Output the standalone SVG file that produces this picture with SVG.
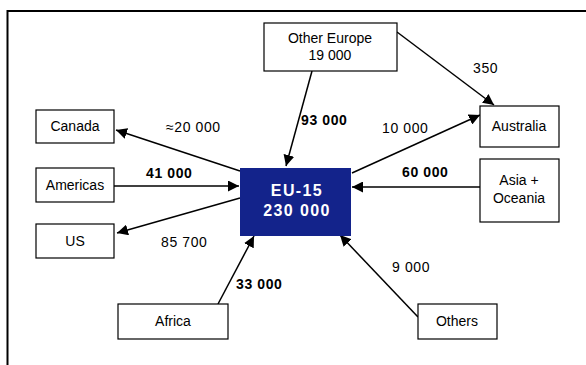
<svg xmlns="http://www.w3.org/2000/svg" width="586" height="365" viewBox="0 0 586 365">
<style>
.box{fill:#fff;stroke:#000;stroke-width:1.2}
.t{font-family:"Liberation Sans","DejaVu Sans",sans-serif;font-size:14px;fill:#000;text-anchor:middle}
.lb{font-family:"Liberation Sans","DejaVu Sans",sans-serif;font-size:14px;letter-spacing:0.6px;fill:#000}
.b{font-weight:bold}
.eu{font-family:"Liberation Sans","DejaVu Sans",sans-serif;font-size:16px;font-weight:bold;letter-spacing:1.4px;fill:#fff;text-anchor:middle}
.c{stroke:#000;stroke-width:1.5;fill:none}
</style>
<defs>
<marker id="ah2" viewBox="0 0 10 10" refX="10" refY="5" markerWidth="11" markerHeight="11" markerUnits="userSpaceOnUse" orient="auto"><path d="M0,0 L10,5 L0,10 z" fill="#000"/></marker>
</defs>
<g id="frame"><path d="M7.5,365 V11 H586" fill="none" stroke="#000" stroke-width="2"/></g>
<g id="connectors">
<line class="c" x1="240" y1="171" x2="116" y2="130" marker-end="url(#ah2)"/>
<line class="c" x1="114" y1="186" x2="239" y2="186" marker-end="url(#ah2)"/>
<line class="c" x1="240" y1="198" x2="117" y2="233" marker-end="url(#ah2)"/>
<line class="c" x1="218" y1="304" x2="254" y2="236" marker-end="url(#ah2)"/>
<line class="c" x1="312" y1="71" x2="286" y2="166" marker-end="url(#ah2)"/>
<line class="c" x1="397" y1="32" x2="494" y2="105" marker-end="url(#ah2)"/>
<line class="c" x1="352" y1="173" x2="480" y2="115" marker-end="url(#ah2)"/>
<line class="c" x1="480" y1="187" x2="352" y2="187" marker-end="url(#ah2)"/>
<line class="c" x1="418" y1="317" x2="340" y2="235" marker-end="url(#ah2)"/>
</g>
<g id="labels">
<text class="lb" x="166" y="132">≈20 000</text>
<text class="lb b" x="146" y="178">41 000</text>
<text class="lb" x="161" y="247">85 700</text>
<text class="lb b" x="236" y="289">33 000</text>
<text class="lb b" x="301" y="125">93 000</text>
<text class="lb" x="382" y="133">10 000</text>
<text class="lb" x="473" y="73">350</text>
<text class="lb b" x="402" y="177">60 000</text>
<text class="lb" x="392" y="272">9 000</text>
</g>
<g id="eu15"><rect x="240" y="168" width="111" height="68" fill="#13238B"/><text class="eu" x="297" y="196">EU-15</text><text class="eu" x="297" y="216">230 000</text></g>
<g id="canada"><rect class="box" x="36" y="110" width="78" height="33"/><text class="t" x="75" y="131">Canada</text></g>
<g id="americas"><rect class="box" x="36" y="168" width="78" height="34"/><text class="t" x="75" y="190">Americas</text></g>
<g id="us"><rect class="box" x="36" y="224" width="78" height="34"/><text class="t" x="75" y="246">US</text></g>
<g id="africa"><rect class="box" x="118" y="304" width="110" height="35"/><text class="t" x="173" y="326">Africa</text></g>
<g id="others"><rect class="box" x="418" y="304" width="79" height="35"/><text class="t" x="457" y="326">Others</text></g>
<g id="other-europe"><rect class="box" x="264" y="23" width="133" height="48"/><text class="t" x="330" y="43">Other Europe</text><text class="t" x="330" y="60">19 000</text></g>
<g id="australia"><rect class="box" x="480" y="106" width="79" height="41"/><text class="t" x="519" y="131">Australia</text></g>
<g id="asia-oceania"><rect class="box" x="480" y="159" width="79" height="63"/><text class="t" x="519" y="185">Asia +</text><text class="t" x="519" y="203">Oceania</text></g>
</svg>
